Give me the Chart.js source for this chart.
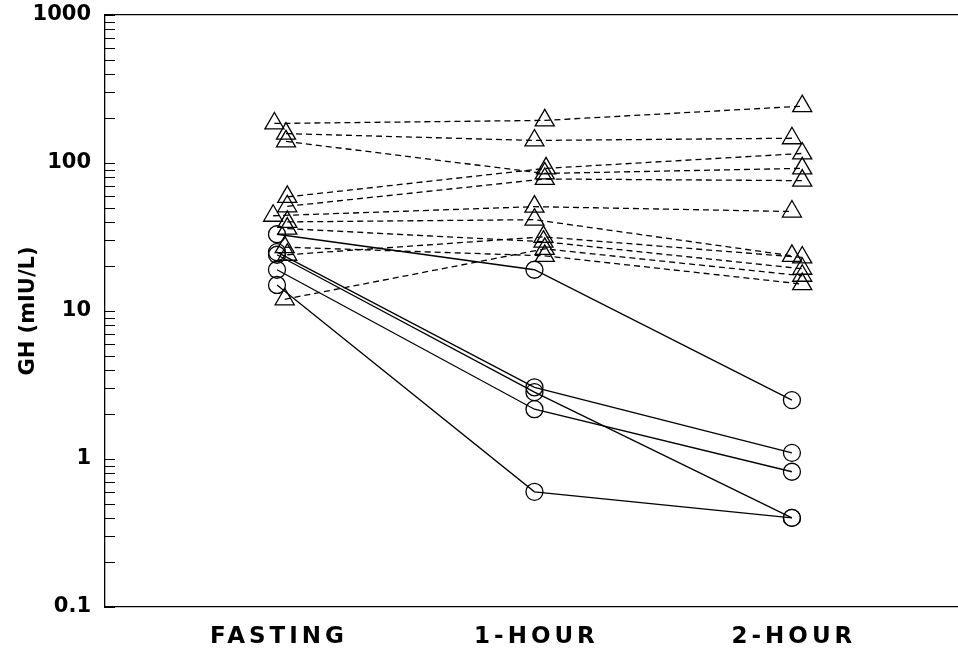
<!DOCTYPE html>
<html>
<head>
<meta charset="utf-8">
<script src="https://cdn.jsdelivr.net/npm/chart.js@4/dist/chart.umd.min.js"></script>
<style>
  html, body { margin: 0; padding: 0; background: #fff; }
  #chart { display: block; }
</style>
</head>
<body>
<canvas id="chart" width="958" height="654"></canvas>
<script>
// categories along the x axis (placed at 1, 2, 3)
const categories = ['FASTING', '1-HOUR', '2-HOUR'];
const yTickValues = [0.1, 1, 10, 100, 1000];

// triangles, dashed lines (one entry per subject)
const triFasting = [185, 158, 140, 59, 51, 44, 40, 36, 27, 24, 12];
const tri1Hour   = [194, 142, 85, 92, 78, 50.7, 41.4, 29.4, 23.6, 31.7, 26.3];
const tri2Hour   = [242, 147, 92, 116, 76, 47, 23.6, 19.3, 15.2, 23, 17.3];
// small horizontal offsets the original plot used so markers don't overlap
const triShiftFasting = [-0.01, 0.035, 0.035, 0.04, 0.04, -0.015, 0.04, 0.04, 0.03, 0.04, 0.03];
const triShift1Hour   = [0.04, 0, 0.04, 0.045, 0.04, 0, 0, 0.035, 0.04, 0.035, 0.04];
const triShift2Hour   = [0.04, 0, 0.04, 0.04, 0.04, 0, 0, 0.04, 0.04, 0.04, 0.04];

// circles, solid lines
const circFasting = [33, 25, 24, 19, 15];
const circ1Hour   = [19, 3.05, 2.83, 2.17, 0.6];
const circ2Hour   = [2.5, 1.1, 0.4, 0.82, 0.4];

const FONT = 'DejaVu Sans';

const datasets = [];
triFasting.forEach((v, i) => {
  datasets.push({
    data: [
      {x: 1 + triShiftFasting[i], y: v},
      {x: 2 + triShift1Hour[i], y: tri1Hour[i]},
      {x: 3 + triShift2Hour[i], y: tri2Hour[i]},
    ],
    borderColor: '#000', borderWidth: 1.3, borderDash: [6, 4],
    pointStyle: 'triangle', pointRadius: 11, pointBorderWidth: 1.3,
    pointBorderColor: '#000', pointBackgroundColor: 'rgba(0,0,0,0)',
    tension: 0,
  });
});
circFasting.forEach((v, i) => {
  datasets.push({
    data: [
      {x: 1, y: v},
      {x: 2, y: circ1Hour[i]},
      {x: 3, y: circ2Hour[i]},
    ],
    borderColor: '#000', borderWidth: 1.3,
    pointStyle: 'circle', pointRadius: 8.5, pointBorderWidth: 1.3,
    pointBorderColor: '#000', pointBackgroundColor: 'rgba(0,0,0,0)',
    tension: 0,
  });
});

function noPad(s) {
  s.paddingLeft = 0; s.paddingRight = 0; s.paddingTop = 0; s.paddingBottom = 0;
}

// inward tick marks on the log axis + spaced category labels
const axisDecor = {
  id: 'axisDecor',
  afterDraw(chart) {
    const ctx = chart.ctx, a = chart.chartArea;
    const ys = chart.scales.y, xs = chart.scales.x;
    ctx.save();
    ctx.strokeStyle = '#000';
    ctx.lineWidth = 1;
    for (let e = -1; e < 3; e++) {
      for (let m = 1; m < 10; m++) {
        const py = Math.round(ys.getPixelForValue(m * Math.pow(10, e))) + 0.5;
        ctx.beginPath(); ctx.moveTo(a.left, py); ctx.lineTo(a.left + 10, py); ctx.stroke();
      }
    }
    const top = Math.round(ys.getPixelForValue(1000)) + 0.5;
    ctx.beginPath(); ctx.moveTo(a.left, top); ctx.lineTo(a.left + 10, top); ctx.stroke();

    ctx.fillStyle = '#000';
    ctx.font = `bold 23px "${FONT}"`;
    ctx.letterSpacing = '4px';
    ctx.textAlign = 'center';
    ctx.textBaseline = 'middle';
    categories.forEach((c, i) => {
      ctx.fillText(c, xs.getPixelForValue(i + 1) + 2, 637);
    });
    ctx.restore();
  }
};

new Chart(document.getElementById('chart'), {
  type: 'line',
  data: {datasets},
  options: {
    responsive: false,
    animation: false,
    layout: {autoPadding: false, padding: {top: 15, right: 0, left: 0, bottom: 0}},
    plugins: {legend: {display: false}, tooltip: {enabled: false}},
    scales: {
      x: {
        type: 'linear', min: 0.332, max: 3.645,
        grid: {display: false},
        border: {display: true, color: '#000', width: 1.3},
        ticks: {display: false},
        afterFit: s => { s.height = 47; noPad(s); },
      },
      xTop: {
        type: 'linear', position: 'top', min: 0.332, max: 3.645,
        grid: {display: false},
        border: {display: true, color: '#000', width: 1.3},
        ticks: {display: false},
        afterFit: s => { s.height = 0; noPad(s); },
      },
      y: {
        type: 'logarithmic', min: 0.1, max: 1000,
        grid: {display: false},
        border: {display: true, color: '#000', width: 1.3},
        afterBuildTicks: s => { s.ticks = yTickValues.map(v => ({value: v})); },
        ticks: {
          autoSkip: false,
          color: '#000',
          padding: 6,
          font: {family: FONT, weight: 'bold', size: 21},
          callback: v => String(v),
        },
        title: {
          display: true, text: 'GH (mIU/L)', color: '#000',
          font: {family: FONT, weight: 'bold', size: 21},
          padding: {top: 16, bottom: 0},
        },
        afterFit: s => { s.width = 105; noPad(s); },
      },
    },
  },
  plugins: [axisDecor],
});
</script>
</body>
</html>
